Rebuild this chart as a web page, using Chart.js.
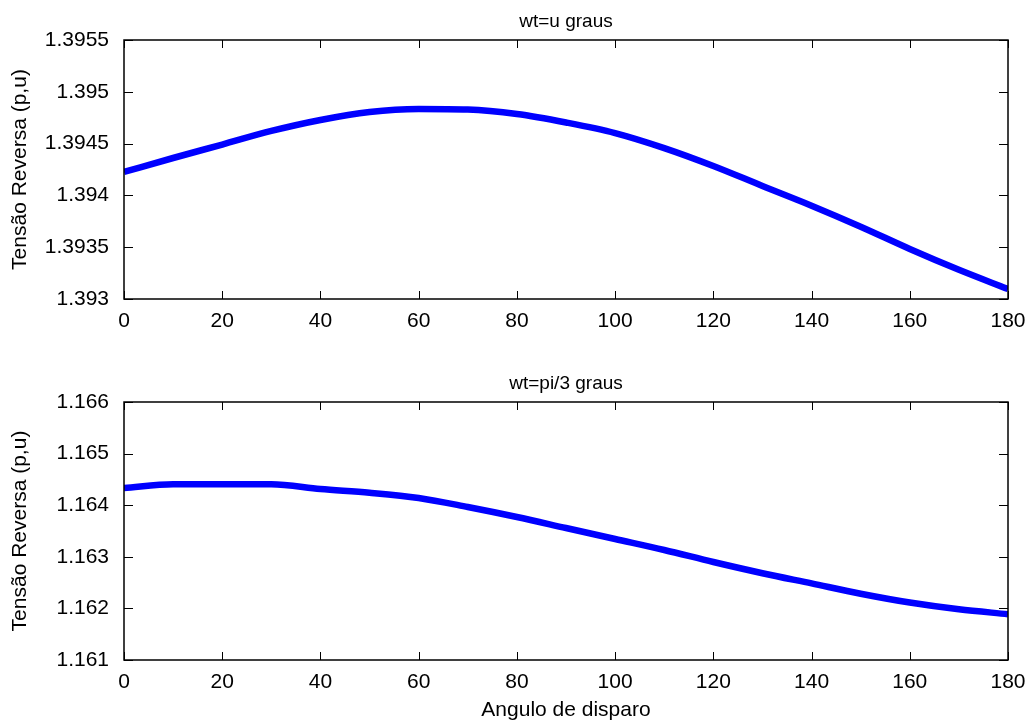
<!DOCTYPE html>
<html>
<head>
<meta charset="utf-8">
<script src="https://cdn.jsdelivr.net/npm/chart.js@4/dist/chart.umd.min.js"></script>
<style>
  body { margin: 0; background: #fff; }
  canvas { position: absolute; left: 0; }
</style>
</head>
<body>
<canvas id="chartTop" width="1034" height="340" style="top:0"></canvas>
<canvas id="chartBottom" width="1034" height="387" style="top:340px"></canvas>
<script>
// angulo de disparo (graus)
const angles = [0, 10, 20, 30, 40, 50, 60, 70, 80, 90, 100, 110, 120, 130, 140, 150, 160, 170, 180];
// wt=u graus
const tensaoTop = [1.394226, 1.394361, 1.394491, 1.394622, 1.394728, 1.394805, 1.394834, 1.394829, 1.394786,
  1.394704, 1.394602, 1.394457, 1.394284, 1.394091, 1.393901, 1.393698, 1.393483, 1.393282, 1.393096];
// wt=pi/3 graus
const tensaoBottom = [1.164333, 1.164405, 1.164405, 1.164405, 1.164314, 1.164242, 1.16414, 1.163965, 1.163771,
  1.163558, 1.163345, 1.163132, 1.162899, 1.162682, 1.162484, 1.162285, 1.162114, 1.161983, 1.161888];

const xTicks = [0, 20, 40, 60, 80, 100, 120, 140, 160, 180];
const yTicksTop = [1.393, 1.3935, 1.394, 1.3945, 1.395, 1.3955];
const yTicksBottom = [1.161, 1.162, 1.163, 1.164, 1.165, 1.166];

Chart.defaults.font.family = "'Liberation Sans', Arial, sans-serif";
Chart.defaults.color = "#000";

// caixa e ticks para dentro, estilo matlab
const matlabBox = {
  id: "matlabBox",
  afterDraw(chart) {
    const { ctx, chartArea: a, scales } = chart;
    const x = scales.x, y = scales.y;
    ctx.save();
    ctx.strokeStyle = "#000";
    ctx.lineWidth = 1;
    ctx.beginPath();
    x.ticks.forEach((t) => {
      const px = Math.round(x.getPixelForValue(t.value)) + 0.5;
      ctx.moveTo(px, a.bottom);
      ctx.lineTo(px, a.bottom - 8);
      ctx.moveTo(px, a.top);
      ctx.lineTo(px, a.top + 8);
    });
    y.ticks.forEach((t) => {
      const py = Math.round(y.getPixelForValue(t.value)) + 0.5;
      ctx.moveTo(a.left, py);
      ctx.lineTo(a.left + 9, py);
      ctx.moveTo(a.right, py);
      ctx.lineTo(a.right - 9, py);
    });
    ctx.stroke();
    ctx.lineWidth = 1.5;
    ctx.strokeRect(a.left, a.top, a.right - a.left, a.bottom - a.top);
    ctx.restore();
  },
};

function makeChart(id, title, values, yTicks, xTitle, xHeight, titleTop) {
  const ctx = document.getElementById(id).getContext("2d");
  return new Chart(ctx, {
    type: "line",
    data: {
      datasets: [
        {
          data: angles.map((a, i) => ({ x: a, y: values[i] })),
          borderColor: "#0000ff",
          borderWidth: 6.5,
          pointRadius: 0,
          cubicInterpolationMode: "monotone",
        },
      ],
    },
    options: {
      responsive: false,
      animation: false,
      layout: { padding: { left: 0, right: 26, top: 0, bottom: 0 } },
      plugins: {
        legend: { display: false },
        tooltip: { enabled: false },
        title: {
          display: true,
          text: title,
          fullSize: false,
          font: { size: 19, weight: "normal" },
          padding: { top: titleTop, bottom: 6.6 },
        },
      },
      scales: {
        x: {
          type: "linear",
          min: 0,
          max: 180,
          grid: { display: false },
          border: { display: false },
          afterBuildTicks: (s) => { s.ticks = xTicks.map((v) => ({ value: v })); },
          afterFit: (s) => { s.height = xHeight; },
          ticks: { font: { size: 21 }, padding: 2, maxRotation: 0, autoSkip: false },
          title: {
            display: !!xTitle,
            text: xTitle,
            font: { size: 21 },
            padding: { top: 0, bottom: 4.4 },
          },
        },
        y: {
          min: yTicks[0],
          max: yTicks[yTicks.length - 1],
          grid: { display: false },
          border: { display: false },
          afterBuildTicks: (s) => { s.ticks = yTicks.map((v) => ({ value: v })); },
          afterFit: (s) => { s.width = 124; },
          ticks: {
            font: { size: 21 },
            padding: 7,
            autoSkip: false,
            callback: (v) => String(Number(v.toFixed(4))),
          },
          title: {
            display: true,
            text: "Tensão Reversa (p,u)",
            font: { size: 21 },
            padding: { top: 7.4, bottom: 0 },
          },
        },
      },
    },
    plugins: [matlabBox],
  });
}

makeChart("chartTop", "wt=u graus", tensaoTop, yTicksTop, "", 41, 10.6);
makeChart("chartBottom", "wt=pi/3 graus", tensaoBottom, yTicksBottom, "Angulo de disparo", 67, 32.6);
</script>
</body>
</html>
